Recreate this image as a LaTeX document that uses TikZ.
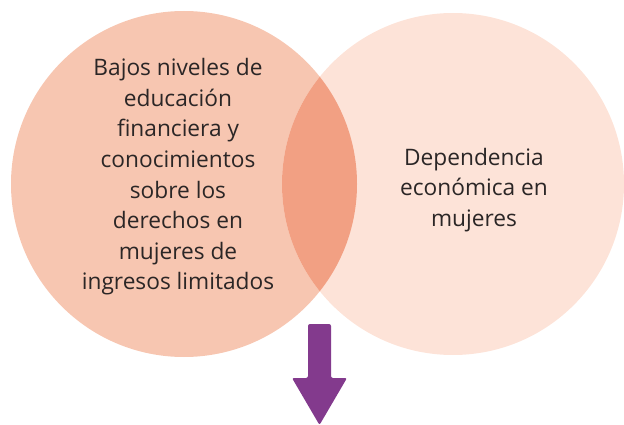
\documentclass[tikz,border=0pt]{standalone}
\usepackage{fontspec}
\setmainfont{Open Sans}
\definecolor{lc}{HTML}{F7C6B1}
\definecolor{rc}{HTML}{FDE3D8}
\definecolor{ic}{HTML}{F2A083}
\definecolor{ac}{HTML}{833A8D}
\definecolor{tc}{HTML}{2B2626}
\tikzset{
  blob/.style={circle, inner sep=0pt, draw=none},
  label text/.style={align=center, text=tc, font=\fontsize{22.7}{30.6}\selectfont, inner sep=0pt},
}
\begin{document}
\begin{tikzpicture}[x=1pt,y=-1pt]
\useasboundingbox (0,0) rectangle (624,425);
\node[blob, fill=lc, minimum size=346pt] (L) at (184,184) {};
\node[blob, fill=rc, minimum size=342pt] (R) at (453,184) {};
\begin{scope}
  \clip (184,184) circle[radius=173pt];
  \fill[ic] (453,184) circle[radius=171pt];
\end{scope}
\node[label text] (lt) at (178,177) {Bajos niveles de\\educación\\financiera y\\conocimientos\\sobre los\\derechos en\\mujeres de\\ingresos limitados};
\node[label text] (rt) at (474,190) {Dependencia\\económica en\\mujeres};
\coordinate (arr) at (319.5,425);
\fill[ac, rounded corners=2pt] (308,324) -- (331,324) -- (331,378) -- (347,378) -- (arr) -- (292,378) -- (308,378) -- cycle;
\end{tikzpicture}
\end{document}
